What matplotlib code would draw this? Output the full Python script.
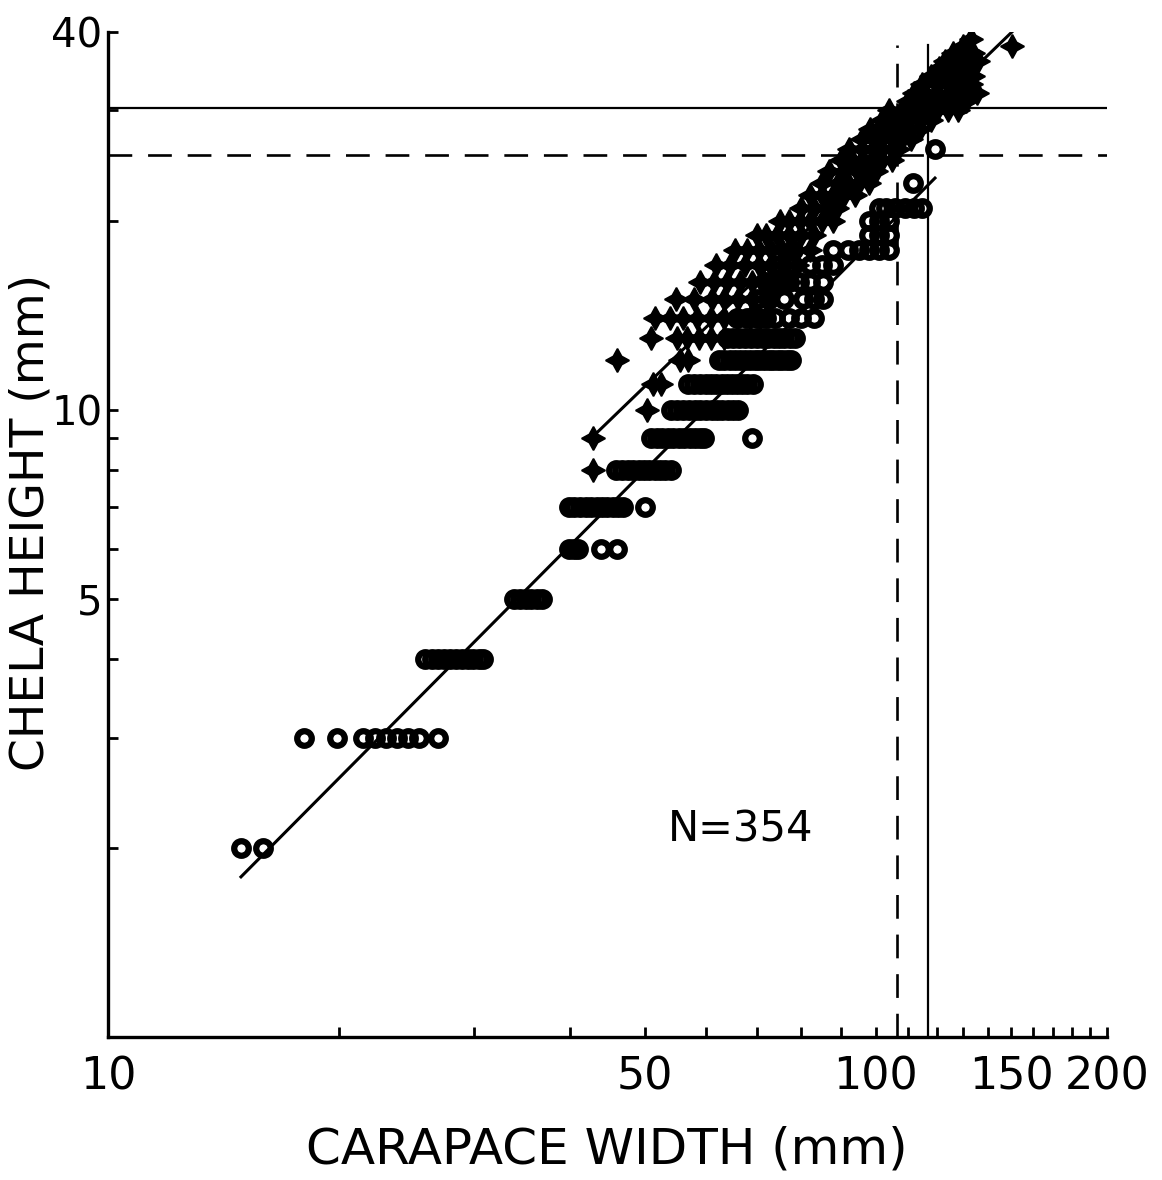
import matplotlib
matplotlib.use("Agg")
import matplotlib.pyplot as plt
import numpy as np
from matplotlib.ticker import FixedLocator, NullFormatter, FixedFormatter

plt.rcParams['font.family'] = ['DejaVu Sans']

# immature crabs (open circles): chela height rows and carapace widths on each row
imm_heights = [2, 3, 4, 5, 6, 7, 8, 9, 10, 11, 12, 13, 14, 15, 16, 17, 18, 19, 20, 21, 23, 26]
imm_widths = [
    [14.9, 15.9],
    [18.0, 19.9, 21.5, 22.3, 23.0, 23.8, 24.6, 25.4, 26.9],
    [25.9, 26.4, 26.9, 27.4, 27.9, 28.4, 28.9, 29.4, 29.9, 30.4, 30.8],
    [33.8, 34.4, 35.0, 35.6, 36.2, 36.8],
    [39.9, 40.4, 40.9, 43.8, 46.0],
    [39.8, 40.5, 41.2, 41.9, 42.6, 43.3, 44.0, 44.7, 45.4, 46.1, 46.8, 50.0],
    [45.9, 46.7, 47.5, 48.3, 49.1, 49.9, 50.7, 51.5, 52.3, 53.1, 54.1],
    [50.9, 51.8, 52.7, 53.6, 54.5, 55.4, 56.3, 57.2, 58.1, 59.0, 59.7, 68.9],
    [54.1, 55.1, 56.1, 57.1, 58.1, 59.1, 60.1, 61.1, 62.1, 63.1, 64.1, 65.1, 66.1],
    [57.0, 58.0, 59.0, 60.0, 61.0, 62.0, 63.0, 64.0, 65.0, 66.0, 67.0, 68.0, 69.2],
    [62.5, 63.5, 64.5, 65.5, 66.5, 67.5, 68.5, 69.5, 70.5, 71.5, 72.5, 73.5, 74.5,
     75.5, 76.5, 77.5],
    [64.0, 65.2, 66.4, 67.6, 68.8, 70.0, 71.2, 72.4, 73.6, 74.8, 76.0, 77.2, 78.4],
    [66.0, 68.0, 70.0, 72.0, 74.0, 77.0, 80.0, 83.0],
    [70.0, 72.5, 76.0, 80.3, 83.0, 85.3],
    [72.0, 74.5, 77.0, 79.5, 82.0, 85.3],
    [74.0, 78.0, 82.0, 85.0, 88.0],
    [78.0, 88.0, 92.0, 95.0, 98.0, 101.0, 104.0],
    [98.0, 101.0, 104.0],
    [98.0, 101.0, 104.0],
    [101.0, 103.0, 106.0, 109.0, 112.0, 115.0],
    [111.7],
    [119.4],
]

# mature crabs (four-pointed stars)
mat_heights = [8, 9, 10, 11, 12, 13, 14, 15, 16, 17, 18, 19, 20, 21, 22, 23, 24, 25,
               26, 27, 28, 29, 30, 31, 32, 33, 34, 35, 36, 37, 38, 39]
mat_widths = [
    [42.8],
    [42.8],
    [50.3],
    [51.2, 52.5],
    [46.0, 55.5, 57.0],
    [51.0, 55.1, 56.7, 58.9, 61.0, 63.5],
    [51.6, 54.0, 56.1, 58.5, 61.0, 63.5, 66.0, 68.5, 70.6],
    [55.0, 58.0, 61.1, 63.5, 66.1, 69.0, 72.0],
    [59.0, 61.5, 64.0, 66.5, 69.0, 71.5, 74.0, 77.0],
    [62.0, 64.5, 67.6, 70.4, 73.0, 76.0, 79.0],
    [65.5, 68.0, 70.5, 73.0, 75.5, 78.0, 82.0],
    [70.0, 72.0, 74.3, 77.0, 80.0, 83.0],
    [75.0, 77.0, 79.6, 82.0, 85.0, 88.0],
    [80.0, 83.0, 86.7, 89.0],
    [82.0, 85.0, 88.0, 91.0, 93.8],
    [85.0, 89.2, 92.0, 95.0, 98.0],
    [87.0, 91.0, 94.6, 97.0, 100.0],
    [90.0, 93.0, 96.0, 99.0, 102.0, 105.0],
    [92.3, 96.0, 99.0, 102.0, 105.0, 107.0],
    [96.0, 99.0, 102.0, 105.0, 108.0, 111.0],
    [98.2, 101.0, 104.0, 107.0, 110.0, 114.0],
    [102.0, 106.0, 110.0, 114.0, 118.0],
    [104.0, 108.0, 112.0, 116.0, 120.0, 124.0, 128.0],
    [110.0, 114.0, 118.0, 122.0, 126.0, 131.0],
    [112.0, 116.0, 120.0, 125.0, 130.0, 135.6],
    [115.0, 120.0, 124.0, 128.0, 133.0],
    [118.0, 122.0, 126.0, 130.0, 134.0],
    [121.0, 125.0, 130.0],
    [123.0, 128.0, 132.0, 136.0],
    [126.0, 130.0, 134.0],
    [130.0, 150.5],
    [133.0],
]

# fitted regression lines (end points)
imm_fit_x = [14.9, 119.4]
imm_fit_y = [1.80, 23.4]
mat_fit_x = [42.4, 150.7]
mat_fit_y = [8.96, 40.1]

# size-at-maturity reference lines
cw_dashed, cw_solid = 106.5, 117.0
ch_dashed, ch_solid = 25.5, 30.3

x_major = [10, 50, 100, 150, 200]
x_minor = [20, 30, 40, 60, 70, 80, 90, 110, 120, 130, 140, 160, 170, 180, 190]
y_major = [5, 10, 40]
y_minor = [2, 3, 4, 6, 7, 8, 9, 20, 30]


def expand(heights, widths):
    xs, ys = [], []
    for h, row in zip(heights, widths):
        xs.extend(row)
        ys.extend([h] * len(row))
    return np.array(xs), np.array(ys)


ix, iy = expand(imm_heights, imm_widths)
mx, my = expand(mat_heights, mat_widths)

fig = plt.figure(figsize=(11.62, 11.8), dpi=100)
ax = fig.add_axes([108 / 1162, 1 - 1037 / 1180, 999 / 1162, 1005 / 1180])
ax.set_xscale('log')
ax.set_yscale('log')
ax.set_xlim(10, 200)
ax.set_ylim(1, 40)

# reference lines
ax.plot([10, 200], [ch_solid, ch_solid], color='black', lw=1.6)
ax.plot([10, 200], [ch_dashed, ch_dashed], color='black', lw=1.9, dashes=(9, 6))
ax.plot([cw_dashed, cw_dashed], [1, 38.1], color='black', lw=1.9, dashes=(9, 6))
ax.plot([cw_solid, cw_solid], [1, 38.1], color='black', lw=1.6)

# regression lines
ax.plot(imm_fit_x, imm_fit_y, color='black', lw=2.2)
ax.plot(mat_fit_x, mat_fit_y, color='black', lw=2.2)

ax.plot(ix, iy, linestyle='', marker='o', markersize=10.5, markerfacecolor='none',
        markeredgecolor='black', markeredgewidth=4.5)
ax.plot(mx, my, linestyle='', marker=(4, 1, 0), markersize=17, color='black',
        markeredgewidth=1.2)

ax.text(0.633, 0.206, 'N=354', transform=ax.transAxes, fontsize=30,
        ha='center', va='center')

for s in ['top', 'right']:
    ax.spines[s].set_visible(False)
for s in ['left', 'bottom']:
    ax.spines[s].set_linewidth(2.4)

ax.xaxis.set_major_locator(FixedLocator(x_major))
ax.xaxis.set_major_formatter(FixedFormatter([str(v) for v in x_major]))
ax.xaxis.set_minor_locator(FixedLocator(x_minor))
ax.xaxis.set_minor_formatter(NullFormatter())
ax.yaxis.set_major_locator(FixedLocator(y_major))
ax.yaxis.set_major_formatter(FixedFormatter([str(v) for v in y_major]))
ax.yaxis.set_minor_locator(FixedLocator(y_minor))
ax.yaxis.set_minor_formatter(NullFormatter())

ax.tick_params(which='both', direction='in', length=7, width=2, color='black')
ax.tick_params(axis='x', which='major', labelsize=32, pad=13)
ax.tick_params(axis='y', which='major', labelsize=29, pad=4)

fig.text(607 / 1162, 1 - 1150 / 1180, 'CARAPACE WIDTH (mm)', fontsize=36,
         ha='center', va='center')
fig.text(31 / 1162, 1 - 522 / 1180, 'CHELA HEIGHT (mm)', fontsize=34,
         ha='center', va='center', rotation=90)

fig.savefig('out.png', dpi=100, facecolor='white')
